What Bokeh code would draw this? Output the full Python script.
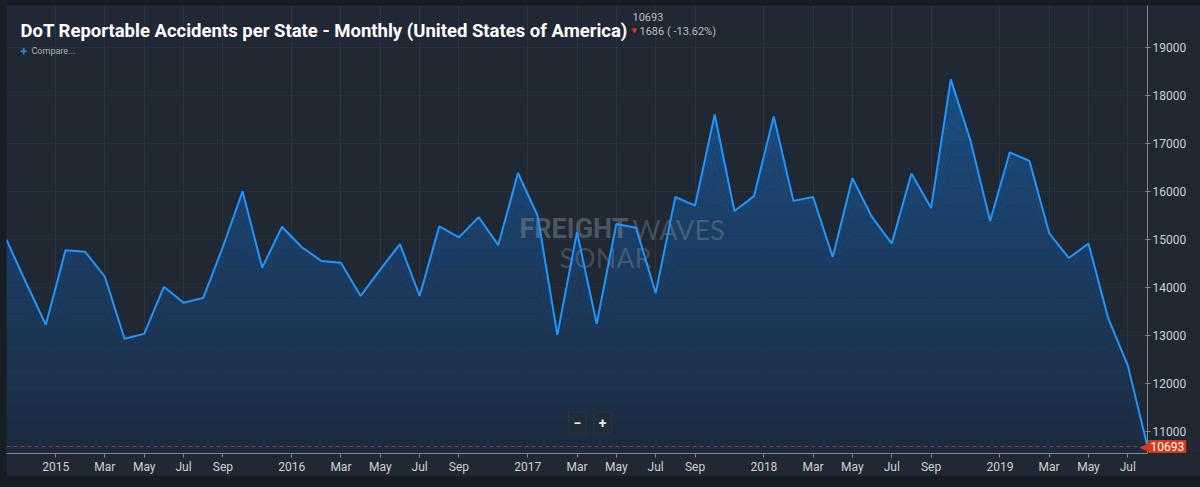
import numpy as np
import pandas as pd
from bokeh.plotting import figure
from bokeh.models import Range1d, FixedTicker, Label
from bokeh.core.properties import value
from bokeh.embed import file_html
from bokeh.resources import INLINE

# ---------------- data ----------------
months = pd.date_range("2014-10-01", "2019-08-01", freq="MS")
accidents = [
    15000, 14100, 13230, 14780, 14750, 14230, 12940, 13040, 14020, 13690,
    13790, 14850, 16010, 14420, 15270, 14850, 14560, 14520, 13830, 14380,
    14910, 13830, 15280, 15050, 15470, 14890, 16390, 15500, 13020, 15160,
    13250, 15330, 15250, 13890, 15890, 15710, 17610, 15600, 15910, 17570,
    15810, 15890, 14640, 16280, 15470, 14920, 16380, 15660, 18340, 17070,
    15390, 16820, 16640, 15140, 14620, 14920, 13370, 12379, 10693,
]
y_ticks = [11000, 12000, 13000, 14000, 15000, 16000, 17000, 18000, 19000]
month_tick_names = {3: "Mar", 5: "May", 7: "Jul", 9: "Sep"}
title_text = "DoT Reportable Accidents per State - Monthly (United States of America)"
latest_value = 10693
change_abs = 1686
change_pct = -13.62

# ---------------- styling ----------------
BG = "#1f2833"
PAGE_BG = "#161d25"
GRID = "#2a3441"
AXIS = "#7f8893"
LABEL = "#cdd1d6"
LINE = "#1e96ff"
RED = "#d5391c"
FONT = "Roboto"

n = len(accidents)
last = n - 1
idx = np.arange(n)
vals = np.array(accidents, dtype=float)

OX, OY = 6, 5                      # page offset of the figure
W, H = 1194, 471
FL, FR, FT, FB = 6, 1147, 5, 454   # plot area edges (page px); FR = y-axis line
YBOT, YTOP = 10549, 19879
px_per_month = (FR - FL) / last
XEND = (OX + W - FL) / px_per_month   # frame runs to the figure's right edge


def dx(px):
    return (px - FL) / px_per_month


def dy(py):
    return YTOP - (py - FT) / (FB - FT) * (YTOP - YBOT)


p = figure(width=W, height=H, output_backend="svg", toolbar_location=None,
           x_range=Range1d(0, XEND), y_range=Range1d(YBOT, YTOP),
           y_axis_location="right",
           min_border_left=FL - OX, min_border_top=FT - OY,
           min_border_right=0, min_border_bottom=OY + H - FB,
           background_fill_color=BG, border_fill_color=BG,
           outline_line_color=None)

# ---------- x ticks from the month list ----------
tick_pos, tick_lab = [], {}
for i, d in enumerate(months):
    if d.month == 1:
        tick_pos.append(i - 0.5)
        tick_lab[i - 0.5] = str(d.year)
    elif d.month in month_tick_names:
        tick_pos.append(float(i))
        tick_lab[float(i)] = month_tick_names[d.month]

p.xaxis.ticker = FixedTicker(ticks=tick_pos)
p.xaxis.major_label_overrides = tick_lab
p.xaxis.bounds = (0, last)
p.yaxis.ticker = FixedTicker(ticks=y_ticks)
p.yaxis.fixed_location = last

for ax in (p.xaxis[0], p.yaxis[0]):
    ax.axis_line_color = AXIS
    ax.major_tick_line_color = AXIS
    ax.minor_tick_line_color = None
    ax.major_label_text_color = LABEL
    ax.major_label_text_font = FONT
    ax.major_label_text_font_size = "12px"
p.xaxis.major_tick_in = 0
p.xaxis.major_tick_out = 4
p.xaxis.major_label_standoff = 2
p.yaxis.major_tick_in = 2
p.yaxis.major_tick_out = 3
p.yaxis.major_label_standoff = 2

p.xgrid.grid_line_color = GRID
p.ygrid.visible = False
# horizontal grid lines stop at the value axis
p.segment(x0=0, x1=last, y0=y_ticks, y1=y_ticks, line_color=GRID, line_width=1,
          level="underlay")

# ---------- gradient area (stacked bands below the line) ----------
c_bot = np.array([0x1c, 0x2a, 0x40], dtype=float)
c_top = np.array([0x1b, 0x52, 0x8c], dtype=float)
NB = 24
levels = np.linspace(YBOT, vals.max(), NB + 1)
for k in range(NB):
    t = (k + 0.5) / NB
    c = c_bot + (c_top - c_bot) * t
    col = "#%02x%02x%02x" % tuple(int(round(v)) for v in c)
    p.varea(x=idx, y1=np.minimum(vals, levels[k]), y2=np.minimum(vals, levels[k + 1]),
            fill_color=col, fill_alpha=0.9)

# ---------- watermark ----------
p.text(x=[dx(628)], y=[dy(229)], text=["FREIGHT"], text_font=value(FONT),
       text_font_style="bold", text_font_size="27px", text_color="#8a929c",
       text_alpha=0.45, text_align="right", text_baseline="middle")
p.text(x=[dx(632)], y=[dy(229)], text=["WAVES"], text_font=value("Lato"),
       text_font_style="normal", text_font_size="27px", text_color="#8a929c",
       text_alpha=0.38, text_align="left", text_baseline="middle")
p.text(x=[dx(605)], y=[dy(258)], text=["SONAR"], text_font=value("Lato"),
       text_font_size="27px", text_color="#8a929c",
       text_alpha=0.35, text_align="center", text_baseline="middle")

# ---------- last value reference line (stops at the value axis) ----------
p.segment(x0=[0], x1=[last], y0=[latest_value], y1=[latest_value],
          line_color="#c0392b", line_dash="4 3", line_width=1, line_alpha=0.8)

# ---------- line ----------
p.line(idx, vals, line_color=LINE, line_width=2)

# ---------- last value marker ----------
p.add_layout(Label(x=last, y=latest_value, x_offset=-8, text="◀",
                   text_font="DejaVu Sans", text_font_size="13px",
                   text_color=RED, text_baseline="middle", text_align="left"))
p.add_layout(Label(x=last, y=latest_value, x_offset=1, text=str(latest_value),
                   text_font=FONT, text_font_size="12px", text_color="#ffffff",
                   text_baseline="middle", text_align="left",
                   background_fill_color=RED, padding=2))

# ---------- header texts ----------
p.add_layout(Label(x=dx(20), y=dy(31), text=title_text, text_font=FONT,
                   text_font_style="bold", text_font_size="18.5px", text_color="#ffffff",
                   text_baseline="alphabetic", text_align="left"))
p.add_layout(Label(x=dx(632), y=dy(17), text=str(latest_value), text_font=FONT,
                   text_font_size="11px", text_color="#b9bec5",
                   text_baseline="middle", text_align="left"))
p.add_layout(Label(x=dx(631), y=dy(31), text="▼", text_font="DejaVu Sans",
                   text_font_size="7px", text_color="#e0302a",
                   text_baseline="middle", text_align="left"))
p.add_layout(Label(x=dx(639), y=dy(31), text="%d ( %.2f%%)" % (change_abs, change_pct),
                   text_font=FONT, text_font_size="11px", text_color="#b9bec5",
                   text_baseline="middle", text_align="left"))
p.add_layout(Label(x=dx(20), y=dy(51), text="+", text_font=FONT,
                   text_font_style="bold", text_font_size="12px", text_color="#2f86e8",
                   text_baseline="middle", text_align="left"))
p.add_layout(Label(x=dx(31), y=dy(51), text="Compare...", text_font=FONT,
                   text_font_size="9px", text_color="#aab1b9",
                   text_baseline="middle", text_align="left"))

# ---------- zoom buttons ----------
for cx, sym in ((577, "−"), (602, "+")):
    p.add_layout(Label(x=dx(cx), y=dy(423), text=sym, text_font=FONT,
                       text_font_style="bold", text_font_size="14px", text_color="#e8eaec",
                       text_baseline="middle", text_align="center",
                       background_fill_color="#222c38", border_line_color="#2c3643",
                       padding=5))

html = file_html(p, INLINE)
html = html.replace("<head>", "<head><style>body{background:%s;padding:%dpx 0 0 %dpx !important;}</style>"
                    % (PAGE_BG, OY, OX), 1)
open("out.html", "w").write(html)
